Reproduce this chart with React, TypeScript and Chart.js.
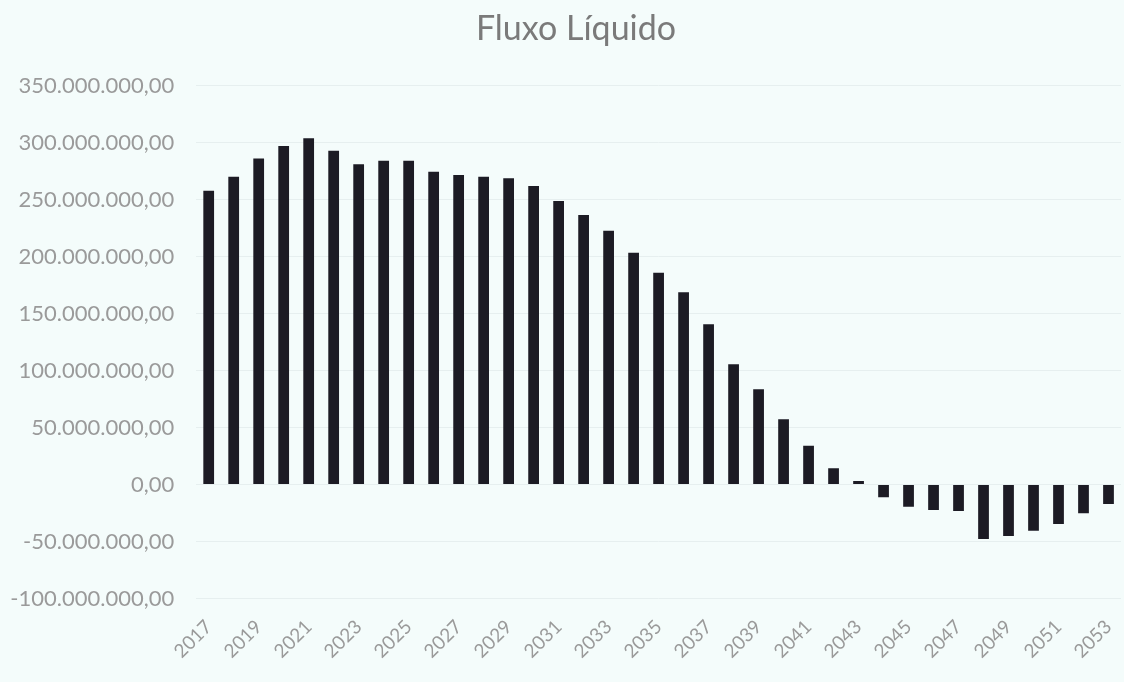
import React, { useEffect, useRef } from 'react';
import { Chart, registerables } from 'chart.js';

Chart.register(...registerables);

const title = 'Fluxo Líquido';

const years = [
  '2017', '2018', '2019', '2020', '2021', '2022', '2023', '2024', '2025', '2026',
  '2027', '2028', '2029', '2030', '2031', '2032', '2033', '2034', '2035', '2036',
  '2037', '2038', '2039', '2040', '2041', '2042', '2043', '2044', '2045', '2046',
  '2047', '2048', '2049', '2050', '2051', '2052', '2053',
];

const fluxoLiquido = [
  257.7e6, 270.0e6, 286.0e6, 297.0e6, 303.7e6, 292.8e6, 281.0e6, 284.0e6, 284.0e6, 274.4e6,
  271.5e6, 270.0e6, 268.6e6, 261.8e6, 248.7e6, 236.4e6, 222.6e6, 203.3e6, 185.8e6, 168.6e6,
  140.5e6, 105.4e6, 83.5e6, 57.2e6, 34.0e6, 14.2e6, 3.0e6, -11.2e6, -19.5e6, -22.4e6,
  -23.2e6, -47.8e6, -45.2e6, -40.5e6, -34.6e6, -25.3e6, -17.1e6,
];

const yMin = -100e6;
const yMax = 350e6;
const yStep = 50e6;

function formatBR(v: number): string {
  const neg = v < 0;
  const s = Math.round(Math.abs(v)).toString().replace(/\B(?=(\d{3})+(?!\d))/g, '.');
  return (neg ? '-' : '') + s + ',00';
}

// nudges the title so it is centred like the original (over the whole picture)
const titleShift = {
  id: 'titleShift',
  afterLayout(chart: any) {
    const t = chart.titleBlock;
    if (t) {
      t.left += 13;
      t.right += 13;
    }
  },
};

export default function App() {
  const ref = useRef<HTMLCanvasElement | null>(null);

  useEffect(() => {
    if (!ref.current) return;
    const chart = new Chart(ref.current, {
      type: 'bar',
      data: {
        labels: years,
        datasets: [
          {
            label: title,
            data: fluxoLiquido,
            backgroundColor: '#1c1b24',
            borderWidth: 0,
            barPercentage: 0.43,
            categoryPercentage: 1,
          },
        ],
      },
      options: {
        responsive: false,
        animation: false,
        devicePixelRatio: 1,
        layout: { padding: { left: 5, right: 3, top: 0, bottom: 0 } },
        plugins: {
          legend: { display: false },
          tooltip: { enabled: false },
          title: {
            display: true,
            text: title,
            color: '#7a7a7a',
            font: { family: 'Lato', size: 34, weight: 'normal', lineHeight: 1.2 },
            padding: { top: 9, bottom: 35.7 },
          },
        },
        scales: {
          x: {
            grid: { display: false, drawTicks: false },
            border: { display: false },
            ticks: {
              autoSkip: false,
              minRotation: 45,
              maxRotation: 45,
              padding: 17,
              color: '#9a9a9a',
              font: { family: 'Lato', size: 19 },
              callback: (_v: any, i: number) => (i % 2 === 0 ? years[i] : ''),
            },
            afterFit: (s: any) => {
              s.height = 83.5;
              s.paddingRight = 0;
            },
          },
          y: {
            min: yMin,
            max: yMax,
            grid: { color: '#e6efef', drawTicks: false },
            border: { display: false },
            ticks: {
              stepSize: yStep,
              padding: 22,
              color: '#9a9a9a',
              font: { family: 'Lato', size: 22 },
              callback: (v: any) => formatBR(Number(v)),
            },
            afterFit: (s: any) => {
              s.width = 191.2;
            },
          },
        },
      },
      plugins: [titleShift],
    });
    return () => chart.destroy();
  }, []);

  return (
    <div
      style={{
        position: 'fixed',
        left: 0,
        top: 0,
        width: 1124,
        height: 682,
        background: '#f4fcfb',
      }}
    >
      <canvas ref={ref} width={1124} height={682} style={{ width: 1124, height: 682, display: 'block' }} />
    </div>
  );
}
